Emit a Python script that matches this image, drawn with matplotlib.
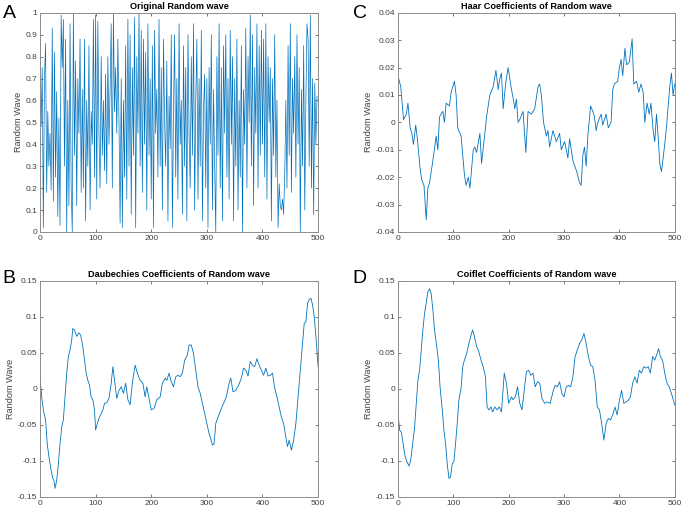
import numpy as np
import matplotlib
matplotlib.use("Agg")
import matplotlib.pyplot as plt

plt.rcParams['font.family'] = ['Liberation Sans', 'DejaVu Sans']

# A: original random wave (every 2nd sample)
rand_x = np.arange(0, 500, 2)
rand_y = [0.88, 0.48, 0.75, 0.02, 0.70, 0.86, 0.18, 0.55, 0.30, 0.45,
          0.19, 0.93, 0.14, 0.82, 0.25, 0.64, 0.07, 0.52, 0.03, 0.99,
          0.75, 0.97, 0.30, 0.88, 0.00, 0.60, 0.12, 0.95, 0.20, 0.00,
          1.00, 0.35, 0.78, 0.12, 0.70, 0.45, 0.88, 0.18, 0.65, 0.20,
          0.88, 0.05, 0.60, 0.30, 0.85, 0.10, 0.55, 0.40, 0.97, 0.25,
          0.99, 0.15, 0.96, 0.45, 0.20, 0.80, 0.35, 0.60, 0.28, 0.72,
          0.22, 0.80, 0.40, 0.65, 0.95, 0.20, 1.00, 0.55, 0.75, 0.45,
          0.88, 0.50, 0.04, 0.70, 0.02, 0.60, 0.25, 0.85, 0.15, 0.97,
          0.30, 0.90, 0.08, 0.75, 0.35, 0.98, 0.02, 0.80, 0.45, 1.00,
          0.30, 0.92, 0.18, 0.88, 0.40, 0.82, 0.10, 0.95, 0.35, 0.70,
          0.15, 0.85, 0.02, 0.92, 0.45, 0.65, 0.25, 0.97, 0.30, 0.75,
          0.10, 0.88, 0.50, 0.30, 0.78, 0.05, 0.62, 0.38, 0.90, 0.02,
          0.55, 0.90, 0.25, 0.70, 0.15, 0.95, 0.40, 0.60, 0.08, 0.85,
          0.30, 0.75, 0.05, 0.90, 0.45, 0.20, 0.80, 0.35, 0.95, 0.10,
          0.60, 0.88, 0.15, 0.70, 0.30, 0.92, 0.05, 0.55, 0.72, 0.20,
          0.70, 0.02, 0.75, 0.40, 0.90, 0.10, 0.65, 0.30, 0.00, 0.80,
          0.35, 0.95, 0.20, 0.75, 0.05, 0.85, 0.45, 0.90, 0.25, 0.70,
          0.15, 0.92, 0.40, 0.80, 0.05, 0.70, 0.30, 0.88, 0.10, 0.60,
          0.25, 0.85, 0.00, 0.65, 0.40, 0.93, 0.20, 0.80, 0.50, 0.99,
          0.30, 0.90, 0.12, 0.75, 0.45, 0.95, 0.20, 0.85, 0.35, 0.92,
          0.40, 0.88, 0.25, 0.95, 0.15, 0.80, 0.50, 0.75, 0.05, 0.70,
          0.35, 0.90, 0.25, 0.60, 0.02, 0.22, 0.12, 0.10, 0.15, 0.08,
          0.27, 0.60, 0.20, 0.85, 0.35, 0.95, 0.18, 0.70, 0.45, 0.80,
          0.25, 0.90, 0.40, 0.75, 0.00, 0.65, 0.30, 0.85, 0.10, 0.60,
          0.95, 0.88, 0.30, 0.99, 0.20, 0.70, 0.08, 0.68, 0.40, 0.62]

# C: Haar coefficients
haar_x = [0, 5, 10, 15, 18, 22, 25, 28, 32, 35, 40, 43, 47, 51, 54, 57, 63, 69, 72, 75,
          81, 84, 87, 93, 96, 102, 105, 108, 114, 120, 123, 127, 130, 136, 139, 142, 148, 151, 157, 160,
          166, 172, 177, 181, 184, 187, 190, 195, 199, 202, 205, 208, 211, 214, 217, 220, 226, 231, 235, 241,
          247, 253, 256, 259, 263, 268, 271, 274, 280, 286, 292, 295, 301, 307, 310, 316, 323, 328, 331, 334,
          337, 340, 343, 348, 352, 355, 358, 361, 367, 370, 376, 380, 385, 388, 391, 397, 400, 403, 406, 410,
          413, 418, 423, 426, 431, 435, 439, 443, 446, 450, 454, 457, 461, 464, 467, 470, 473, 476, 479, 482,
          485, 491, 494, 497, 500]
haar_y = [0.017, 0.013, 0.001, 0.003, 0.007, -0.002, -0.004, -0.008, -0.001, -0.006,
          -0.017, -0.021, -0.023, -0.0355, -0.024, -0.022, -0.014, -0.005, -0.010, 0.002,
          0.004, 0.000, 0.007, 0.006, 0.011, 0.015, 0.010, -0.002, -0.005, -0.019,
          -0.023, -0.020, -0.024, -0.010, -0.009, -0.011, -0.004, -0.015, -0.004, 0.002,
          0.010, 0.013, 0.019, 0.012, 0.016, 0.018, 0.005, 0.015, 0.020, 0.016,
          0.012, 0.009, 0.005, 0.0085, 0.000, 0.001, 0.004, -0.011, 0.004, 0.003,
          0.005, 0.013, 0.014, 0.010, 0.000, -0.005, -0.003, -0.009, -0.003, -0.007,
          -0.004, -0.010, -0.007, -0.013, -0.006, -0.014, -0.018, -0.022, -0.023, -0.012,
          -0.009, -0.016, -0.005, 0.006, 0.004, 0.002, -0.003, 0.000, 0.003, -0.001,
          0.003, -0.002, 0.000, 0.012, 0.014, 0.015, 0.020, 0.023, 0.017, 0.027,
          0.021, 0.022, 0.0305, 0.014, 0.015, 0.011, 0.014, 0.011, 0.000, 0.007,
          0.003, 0.007, -0.003, -0.007, 0.003, -0.005, -0.015, -0.018, -0.013, -0.008,
          -0.002, 0.013, 0.018, 0.010, 0.014]

# B: Daubechies coefficients
db_x = [0, 3, 6, 10, 13, 16, 20, 23, 25, 27, 30, 33, 36, 39, 42, 45, 48, 51, 54, 57,
        59, 62, 66, 70, 73, 77, 80, 83, 86, 89, 92, 95, 98, 100, 103, 106, 110, 113, 116, 120,
        124, 128, 131, 134, 138, 142, 146, 150, 154, 158, 162, 166, 171, 175, 180, 185, 189, 192, 196, 200,
        205, 210, 216, 220, 225, 228, 232, 236, 240, 244, 248, 252, 256, 260, 265, 268, 272, 276, 280, 284,
        288, 292, 296, 300, 304, 307, 310, 313, 316, 320, 325, 330, 335, 340, 343, 347, 352, 357, 362, 366,
        370, 374, 378, 382, 386, 390, 394, 398, 402, 406, 410, 414, 418, 422, 426, 430, 434, 438, 442, 445,
        448, 452, 456, 460, 464, 468, 472, 475, 478, 481, 484, 487, 490, 493, 496, 500]
db_y = [0.017, -0.011, -0.029, -0.043, -0.076, -0.094, -0.113, -0.124, -0.127, -0.138,
        -0.127, -0.104, -0.076, -0.053, -0.043, -0.011, 0.022, 0.045, 0.054, 0.068,
        0.084, 0.082, 0.073, 0.078, 0.075, 0.059, 0.040, 0.022, 0.012, 0.005,
        -0.011, -0.015, -0.029, -0.057, -0.048, -0.041, -0.034, -0.029, -0.020, -0.019,
        -0.013, 0.008, 0.031, 0.012, -0.013, -0.002, 0.003, -0.006, 0.008, -0.015,
        -0.022, 0.008, 0.033, 0.022, 0.012, 0.008, -0.011, 0.003, -0.013, -0.029,
        -0.027, -0.015, -0.011, 0.008, 0.015, 0.012, 0.022, 0.010, 0.003, 0.017,
        0.019, 0.017, 0.022, 0.040, 0.047, 0.061, 0.061, 0.049, 0.026, 0.003,
        -0.006, -0.020, -0.034, -0.048, -0.062, -0.069, -0.078, -0.076, -0.048, -0.039,
        -0.029, -0.020, -0.011, 0.008, 0.015, -0.004, -0.002, 0.005, 0.015, 0.029,
        0.026, 0.018, 0.038, 0.033, 0.031, 0.042, 0.033, 0.026, 0.019, 0.029,
        0.018, 0.019, 0.022, 0.001, -0.011, -0.025, -0.039, -0.048, -0.067, -0.080,
        -0.071, -0.085, -0.071, -0.048, -0.011, 0.026, 0.063, 0.091, 0.093, 0.119,
        0.124, 0.126, 0.117, 0.101, 0.073, 0.031]

# D: Coiflet coefficients
coif_x = [0, 3, 6, 10, 13, 16, 20, 23, 26, 30, 33, 36, 39, 42, 45, 48, 51, 54, 57, 60,
          63, 66, 70, 73, 76, 80, 83, 86, 89, 92, 95, 98, 101, 104, 107, 110, 114, 117, 120, 124,
          128, 132, 135, 138, 142, 146, 150, 154, 158, 161, 164, 168, 171, 175, 179, 183, 187, 192, 196, 200,
          205, 208, 212, 216, 220, 224, 228, 232, 236, 240, 244, 248, 252, 256, 260, 265, 270, 275, 280, 284,
          288, 292, 296, 300, 304, 308, 312, 316, 320, 324, 328, 332, 336, 340, 344, 348, 352, 356, 360, 364,
          368, 372, 376, 380, 384, 388, 392, 396, 400, 404, 408, 412, 416, 420, 424, 428, 432, 436, 440, 444,
          448, 452, 456, 460, 464, 468, 471, 474, 478, 482, 486, 490, 494, 500]
coif_y = [-0.034, -0.057, -0.060, -0.080, -0.094, -0.101, -0.107, -0.099, -0.080, -0.053,
          -0.020, 0.012, 0.026, 0.054, 0.082, 0.105, 0.119, 0.135, 0.139, 0.132,
          0.110, 0.082, 0.059, 0.040, 0.003, -0.029, -0.057, -0.076, -0.104, -0.124,
          -0.122, -0.104, -0.101, -0.076, -0.048, -0.016, 0.001, 0.031, 0.040, 0.049,
          0.063, 0.075, 0.082, 0.073, 0.059, 0.052, 0.040, 0.031, 0.017, -0.025,
          -0.029, -0.025, -0.032, -0.025, -0.029, -0.025, -0.032, 0.022, 0.008, -0.020,
          -0.011, -0.015, -0.011, 0.003, -0.020, -0.029, -0.002, 0.024, 0.026, 0.019,
          0.022, 0.003, 0.010, 0.008, -0.013, -0.020, -0.018, -0.020, -0.004, 0.005,
          0.003, 0.010, -0.006, -0.011, 0.003, 0.005, 0.003, 0.017, 0.045, 0.054,
          0.063, 0.068, 0.077, 0.063, 0.045, 0.033, 0.031, 0.012, -0.025, -0.029,
          -0.048, -0.071, -0.048, -0.041, -0.043, -0.036, -0.025, -0.036, -0.016, -0.002,
          -0.020, -0.018, -0.016, -0.011, 0.008, 0.017, 0.008, 0.026, 0.022, 0.031,
          0.029, 0.031, 0.022, 0.045, 0.040, 0.049, 0.056, 0.045, 0.040, 0.022,
          0.008, 0.003, -0.006, -0.022]

line_col = '#0072BD'
grey = '#8c8c8c'

fig = plt.figure(figsize=(6.85, 5.12), dpi=100)

panels = [
    ('A', [0.0584, 0.547, 0.406, 0.428], rand_x, rand_y, 'Original Random wave', (0, 1), np.arange(0, 1.01, 0.1), 0.5),
    ('C', [0.581, 0.547, 0.404, 0.428], haar_x, haar_y, 'Haar Coefficients of Random wave', (-0.04, 0.04), np.arange(-0.04, 0.041, 0.01), 0.6),
    ('B', [0.0584, 0.0293, 0.406, 0.422], db_x, db_y, 'Daubechies Coefficients of Random wave', (-0.15, 0.15), np.arange(-0.15, 0.151, 0.05), 0.6),
    ('D', [0.581, 0.0293, 0.404, 0.422], coif_x, coif_y, 'Coiflet Coefficients of Random wave', (-0.15, 0.15), np.arange(-0.15, 0.151, 0.05), 0.6),
]

for letter, pos, x, y, title, ylim, yt, lw in panels:
    ax = fig.add_axes(pos)
    ax.plot(x, y, color=line_col, lw=lw)
    ax.set_xlim(0, 500)
    ax.set_ylim(*ylim)
    ax.set_xticks(np.arange(0, 501, 100))
    yt = np.round(yt, 2)
    ax.set_yticks(yt)
    ax.set_yticklabels(['{:g}'.format(v) if v != 0 else '0' for v in yt])
    ax.tick_params(direction='in', length=2.5, width=0.5, top=True, right=True,
                   labelsize=6, colors='#404040', pad=2)
    for s in ax.spines.values():
        s.set_color(grey)
        s.set_linewidth(0.7)
    ax.set_title(title, fontsize=6.6, fontweight='bold', pad=2.5)
    ax.set_ylabel('Random Wave', fontsize=6.6, color='#404040', labelpad=2)
    # panel letter, left of the axes
    lx = 0.004 if pos[0] < 0.5 else 0.515
    ly = 0.965 if pos[1] > 0.5 else 0.447
    fig.text(lx, ly, letter, fontsize=14, va='baseline', ha='left')

fig.savefig('out.png', dpi=100)
